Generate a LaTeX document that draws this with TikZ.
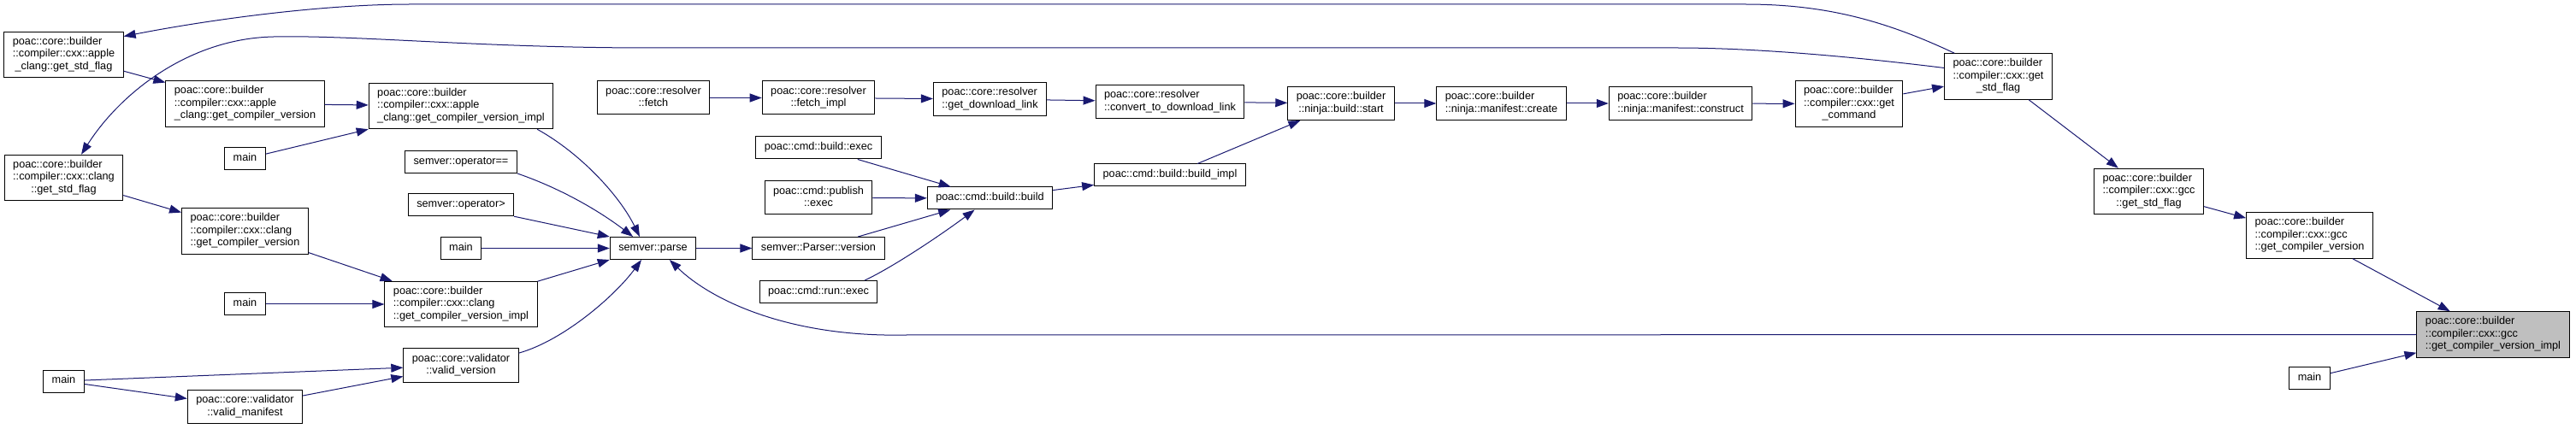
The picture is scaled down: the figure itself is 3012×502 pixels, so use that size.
\documentclass[tikz,border=0pt]{standalone}
\usepackage{fontspec}
\setmainfont{Liberation Sans}
\usetikzlibrary{arrows.meta}
\definecolor{edgeblue}{HTML}{191970}
\definecolor{focusgray}{HTML}{BFBFBF}
\tikzset{
    fnnode/.style={draw=black,line width=1pt,fill=white,inner xsep=10pt,inner ysep=5pt,
                   minimum height=26pt,font=\fontsize{12.7}{14.5}\selectfont},
    fnfocus/.style={fnnode,fill=focusgray},
    fnedge/.style={draw=edgeblue,line width=1pt,-{Triangle[length=14pt,width=10pt]}}
}
% all lines but the last left aligned, last one centred
\newcommand{\calllabel}[2]{\begin{tabular}{@{}l@{}}#1\\\multicolumn{1}{@{}c@{}}{#2}\end{tabular}}
\newcommand{\callname}[1]{\begin{tabular}{@{}c@{}}#1\end{tabular}}

\begin{document}
\begin{tikzpicture}[x=1pt,y=-1pt]
  \useasboundingbox (0,0) rectangle (3012,502);

  % column 1
  \node[fnnode] (apStd) at (74.5,64) {\calllabel{poac::core::builder\\::compiler::cxx::apple}{\_clang::get\_std\_flag}};
  \node[fnnode] (clStd) at (74.5,208) {\calllabel{poac::core::builder\\::compiler::cxx::clang}{::get\_std\_flag}};
  \node[fnnode] (mainValid) at (74.5,446) {\callname{main}};

  % column 2
  \node[fnnode] (apVer) at (286.5,121.5) {\calllabel{poac::core::builder\\::compiler::cxx::apple}{\_clang::get\_compiler\_version}};
  \node[fnnode] (mainApple) at (286.5,186) {\callname{main}};
  \node[fnnode] (clVer) at (286.5,270.5) {\calllabel{poac::core::builder\\::compiler::cxx::clang}{::get\_compiler\_version}};
  \node[fnnode] (mainClang) at (286.5,356) {\callname{main}};
  \node[fnnode] (valMan) at (286.5,476) {\calllabel{poac::core::validator}{::valid\_manifest}};

  % column 3
  \node[fnnode] (apImpl) at (539,124) {\calllabel{poac::core::builder\\::compiler::cxx::apple}{\_clang::get\_compiler\_version\_impl}};
  \node[fnnode] (opEq) at (539,189.5) {\callname{semver::operator==}};
  \node[fnnode] (opGt) at (539,240) {\callname{semver::operator>}};
  \node[fnnode] (mainParse) at (539,290.5) {\callname{main}};
  \node[fnnode] (clImpl) at (539,356) {\calllabel{poac::core::builder\\::compiler::cxx::clang}{::get\_compiler\_version\_impl}};
  \node[fnnode] (valVer) at (539,427.5) {\calllabel{poac::core::validator}{::valid\_version}};

  % column 4
  \node[fnnode] (fetch) at (764,114.5) {\calllabel{poac::core::resolver}{::fetch}};
  \node[fnnode] (parse) at (763.5,290.5) {\callname{semver::parse}};

  % column 5
  \node[fnnode] (fetchImpl) at (957,114.5) {\calllabel{poac::core::resolver}{::fetch\_impl}};
  \node[fnnode] (buildExec) at (957,173) {\callname{poac::cmd::build::exec}};
  \node[fnnode] (publishExec) at (957,231.5) {\calllabel{poac::cmd::publish}{::exec}};
  \node[fnnode] (parserVer) at (957,290.5) {\callname{semver::Parser::version}};
  \node[fnnode] (runExec) at (957,341.5) {\callname{poac::cmd::run::exec}};

  % columns 6 to 10
  \node[fnnode] (getLink) at (1157.5,116) {\calllabel{poac::core::resolver}{::get\_download\_link}};
  \node[fnnode] (build) at (1157.5,232) {\callname{poac::cmd::build::build}};
  \node[fnnode] (convLink) at (1368,119) {\calllabel{poac::core::resolver}{::convert\_to\_download\_link}};
  \node[fnnode] (buildImpl) at (1368,205) {\callname{poac::cmd::build::build\_impl}};
  \node[fnnode] (ninjaStart) at (1568,121) {\calllabel{poac::core::builder}{::ninja::build::start}};
  \node[fnnode] (manCreate) at (1755.5,121) {\calllabel{poac::core::builder}{::ninja::manifest::create}};
  \node[fnnode] (manConstruct) at (1965,121) {\calllabel{poac::core::builder}{::ninja::manifest::construct}};

  % columns 11 to 15
  \node[fnnode] (getCmd) at (2162,121.5) {\calllabel{poac::core::builder\\::compiler::cxx::get}{\_command}};
  \node[fnnode] (getStd) at (2336.5,89.5) {\calllabel{poac::core::builder\\::compiler::cxx::get}{\_std\_flag}};
  \node[fnnode] (gccStd) at (2512.5,224) {\calllabel{poac::core::builder\\::compiler::cxx::gcc}{::get\_std\_flag}};
  \node[fnnode] (gccVer) at (2700.5,275.5) {\calllabel{poac::core::builder\\::compiler::cxx::gcc}{::get\_compiler\_version}};
  \node[fnnode] (mainGcc) at (2700.5,442.5) {\callname{main}};
  \node[fnfocus] (gccImpl) at (2915,391.5) {\calllabel{poac::core::builder\\::compiler::cxx::gcc}{::get\_compiler\_version\_impl}};

  % long curved edges
  \draw[fnedge] (getStd.152) .. controls (2200,22) and (2130,5) .. (2040,5) -- (480,5)
    .. controls (380,5) and (250,22) .. (apStd.17);
  \draw[fnedge] (getStd.171) .. controls (2180,68) and (2060,56) .. (1960,56) -- (760,56)
    .. controls (560,56) and (420,41) .. (320,43) .. controls (220,45) and (140,110) .. (clStd.53);
  \draw[fnedge] (gccImpl.west) -- (1060,392) .. controls (920,395) and (830,350) .. (parse.325);

  % into semver::parse
  \draw[fnedge] (apImpl.343) .. controls (680,180) and (725,230) .. (parse.139);
  \draw[fnedge] (opEq.south east) .. controls (660,222) and (705,250) .. (parse.150);
  \draw[fnedge] (opGt) -- (parse.north west);
  \draw[fnedge] (mainParse) -- (parse);
  \draw[fnedge] (clImpl) -- (parse.south west);
  \draw[fnedge] (valVer.12) .. controls (660,398) and (720,345) .. (parse.225);

  % left part
  \draw[fnedge] (apStd) -- (apVer.165);
  \draw[fnedge] (apVer) -- (apImpl);
  \draw[fnedge] (mainApple) -- (apImpl.south west);
  \draw[fnedge] (clStd) -- (clVer);
  \draw[fnedge] (clVer) -- (clImpl);
  \draw[fnedge] (mainClang) -- (clImpl);
  \draw[fnedge] (mainValid) -- (valVer);
  \draw[fnedge] (mainValid) -- (valMan);
  \draw[fnedge] (valMan) -- (valVer);

  % middle part
  \draw[fnedge] (parse) -- (parserVer);
  \draw[fnedge] (fetch) -- (fetchImpl);
  \draw[fnedge] (fetchImpl) -- (getLink);
  \draw[fnedge] (getLink) -- (convLink);
  \draw[fnedge] (convLink) -- (ninjaStart);
  \draw[fnedge] (buildExec) -- (build);
  \draw[fnedge] (publishExec) -- (build);
  \draw[fnedge] (parserVer) -- (build);
  \draw[fnedge] (runExec.14) .. controls (1045,312) and (1100,275) .. (build.217);
  \draw[fnedge] (build) -- (buildImpl);
  \draw[fnedge] (buildImpl) -- (ninjaStart);

  % right part
  \draw[fnedge] (ninjaStart) -- (manCreate);
  \draw[fnedge] (manCreate) -- (manConstruct);
  \draw[fnedge] (manConstruct) -- (getCmd);
  \draw[fnedge] (getCmd) -- (getStd);
  \draw[fnedge] (getStd) -- (gccStd);
  \draw[fnedge] (gccStd) -- (gccVer);
  \draw[fnedge] (gccVer) -- (gccImpl);
  \draw[fnedge] (mainGcc) -- (gccImpl);
\end{tikzpicture}
\end{document}
